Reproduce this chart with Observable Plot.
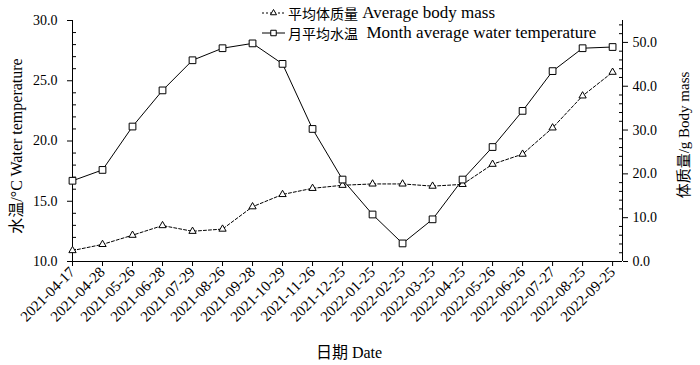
<!DOCTYPE html>
<html>
<head>
<meta charset="utf-8">
<script src="https://cdn.jsdelivr.net/npm/d3@7"></script>
<script src="https://cdn.jsdelivr.net/npm/@observablehq/plot@0.6"></script>
<style>
  html, body { margin: 0; padding: 0; background: #fff; }
  #wrap { position: relative; width: 700px; height: 365px; font-family: "Liberation Serif", "Times New Roman", "Noto Sans CJK SC", serif; color: #000; }
  #wrap svg { display: block; }
  .ov { position: absolute; white-space: nowrap; line-height: 1; }
  .leg { position: absolute; left: 262px; display: flex; align-items: center; white-space: nowrap; line-height: 1; }
  .leg svg { margin-right: 3px; }
  .cjk { font-family: "Noto Sans CJK SC", sans-serif; font-size: 14px; }
  .lat { font-family: "Liberation Serif", "Times New Roman", serif; font-size: 17px; white-space: pre; }
</style>
</head>
<body>
<div id="wrap"></div>
<script>
// ---- data ----
const dates = ["2021-04-17","2021-04-28","2021-05-26","2021-06-28","2021-07-29","2021-08-26","2021-09-28","2021-10-29","2021-11-26","2021-12-25","2022-01-25","2022-02-25","2022-03-25","2022-04-25","2022-05-26","2022-06-26","2022-07-27","2022-08-25","2022-09-25"];
const waterTemp = [16.7, 17.6, 21.2, 24.2, 26.7, 27.7, 28.1, 26.4, 21.0, 16.8, 13.9, 11.5, 13.5, 16.8, 19.5, 22.5, 25.8, 27.7, 27.8];
const bodyMass = [2.5, 3.9, 6.0, 8.2, 6.9, 7.4, 12.5, 15.3, 16.7, 17.4, 17.7, 17.7, 17.2, 17.6, 22.2, 24.5, 30.5, 37.8, 43.2];
const tempTicks = [10, 15, 20, 25, 30];
const tempMinor = [11,12,13,14,16,17,18,19,21,22,23,24,26,27,28,29];
const massTicks = [0, 10, 20, 30, 40, 50];
const massMinor = [2,4,6,8,12,14,16,18,22,24,26,28,32,34,36,38,42,44,46,48,52,54];
const tempDomain = [10, 30];
const massDomain = [0, 55];

const labels = {
  left: "水温/°C Water temperature",
  right: "体质量/g Body mass",
  bottom: "日期 Date"
};
const legendMass = ["平均体质量", "\u00a0Average body mass"];
const legendTemp = ["月平均水温", "\u00a0\u00a0Month average water temperature"];

// map mass onto temperature scale (secondary axis)
const toLeft = m => tempDomain[0] + (m - massDomain[0]) * (tempDomain[1] - tempDomain[0]) / (massDomain[1] - massDomain[0]);
const fromLeft = t => massDomain[0] + (t - tempDomain[0]) * (massDomain[1] - massDomain[0]) / (tempDomain[1] - tempDomain[0]);

const idx = dates.map((d, i) => i);
const xMax = (dates.length - 1) + 0.33;

const chart = Plot.plot({
  width: 700,
  height: 365,
  marginLeft: 72,
  marginRight: 78,
  marginTop: 20,
  marginBottom: 104,
  style: { fontFamily: "'Liberation Serif', 'Times New Roman', serif", fontSize: "14px", color: "#000", background: "white" },
  x: { type: "linear", domain: [0, xMax], axis: null },
  y: { domain: tempDomain, axis: null },
  marks: [
    Plot.ruleX([0], { stroke: "#000" }),
    Plot.ruleX([xMax], { stroke: "#000" }),
    Plot.ruleY([tempDomain[0]], { stroke: "#000" }),
    // left axis
    Plot.axisY(tempTicks, { anchor: "left", tickSize: 5, tickPadding: 10, tickFormat: d => d.toFixed(1), fontSize: 14 }),
    Plot.axisY(tempMinor, { anchor: "left", tickSize: -4, tickFormat: () => "" }),
    // right axis (body mass)
    Plot.axisY(massTicks.map(toLeft), { anchor: "right", tickSize: 5, tickPadding: 5, tickFormat: d => fromLeft(d).toFixed(1), fontSize: 14 }),
    Plot.axisY(massMinor.map(toLeft), { anchor: "right", tickSize: -4, tickFormat: () => "" }),
    // bottom axis
    Plot.axisX(idx, { anchor: "bottom", tickSize: 5, tickPadding: 3, tickRotate: -45, tickFormat: i => dates[i], fontSize: 15 }),
    // series
    Plot.line(idx, { x: i => i, y: i => toLeft(bodyMass[i]), stroke: "#000", strokeWidth: 1, strokeDasharray: "3,2" }),
    Plot.line(idx, { x: i => i, y: i => waterTemp[i], stroke: "#000", strokeWidth: 1 }),
    Plot.dot(idx, { x: i => i, y: i => toLeft(bodyMass[i]), symbol: "triangle", r: 2.7, fill: "white", stroke: "#000", strokeWidth: 1 }),
    Plot.dot(idx, { x: i => i, y: i => waterTemp[i], symbol: "square", r: 3.8, fill: "white", stroke: "#000", strokeWidth: 1 })
  ]
});

const wrap = document.getElementById("wrap");
wrap.appendChild(chart);

function addText(txt, css) {
  const d = document.createElement("div");
  d.className = "ov";
  d.textContent = txt;
  Object.assign(d.style, css);
  wrap.appendChild(d);
  return d;
}
addText(labels.left, { left: "17px", top: "146px", fontSize: "16px", transform: "translate(-50%,-50%) rotate(-90deg)" });
addText(labels.right, { left: "684px", top: "135px", fontSize: "15px", transform: "translate(-50%,-50%) rotate(-90deg)" });
addText(labels.bottom, { left: "349px", top: "353px", fontSize: "16px", transform: "translate(-50%,-50%)" });

function addLegend(parts, top, dashed, symbol) {
  const row = document.createElement("div");
  row.className = "leg";
  row.style.top = top + "px";
  const ns = "http://www.w3.org/2000/svg";
  const s = document.createElementNS(ns, "svg");
  s.setAttribute("width", "23"); s.setAttribute("height", "10");
  const l = document.createElementNS(ns, "line");
  l.setAttribute("x1", 0); l.setAttribute("x2", 23); l.setAttribute("y1", 5); l.setAttribute("y2", 5);
  l.setAttribute("stroke", "#000");
  if (dashed) l.setAttribute("stroke-dasharray", "2,2");
  s.appendChild(l);
  const p = document.createElementNS(ns, "path");
  p.setAttribute("d", d3.symbol(symbol === "square" ? d3.symbolSquare : d3.symbolTriangle, symbol === "square" ? 30 : 16)());
  p.setAttribute("transform", "translate(11.5,5)");
  p.setAttribute("fill", "white"); p.setAttribute("stroke", "#000");
  s.appendChild(p);
  row.appendChild(s);
  const c = document.createElement("span");
  c.className = "cjk"; c.textContent = parts[0];
  row.appendChild(c);
  const t = document.createElement("span");
  t.className = "lat"; t.textContent = parts[1];
  row.appendChild(t);
  wrap.appendChild(row);
}
addLegend(legendMass, 4, true, "triangle");
addLegend(legendTemp, 24, false, "square");
</script>
</body>
</html>
